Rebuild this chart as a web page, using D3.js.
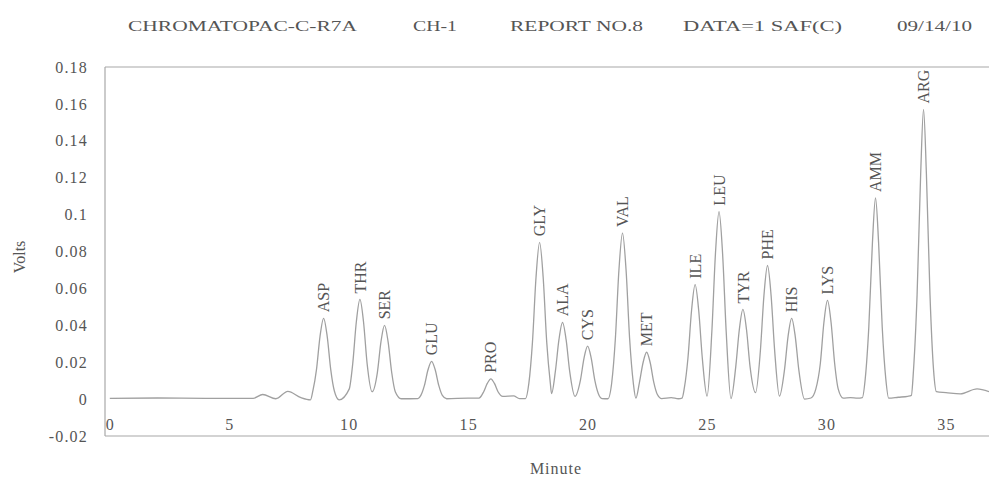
<!DOCTYPE html>
<html>
<head>
<meta charset="utf-8">
<script src="https://cdn.jsdelivr.net/npm/d3@7"></script>
<style>
    body { margin: 0; background: #fff; }
    svg { display: block; }
    text { font-family: "Liberation Serif", "DejaVu Serif", serif; fill: #555; }
</style>
</head>
<body>
<svg id="chart" width="989" height="480"></svg>
<script>
// header line of the report
var headerTexts = ["CHROMATOPAC-C-R7A", "CH-1", "REPORT NO.8", "DATA=1 SAF(C)", "09/14/10"];

// axis ticks
var xTicks = [0, 5, 10, 15, 20, 25, 30, 35];
var yTicks = [0.18, 0.16, 0.14, 0.12, 0.1, 0.08, 0.06, 0.04, 0.02, 0, -0.02];
var yTickLabels = ["0.18", "0.16", "0.14", "0.12", "0.1", "0.08", "0.06", "0.04", "0.02", "0", "-0.02"];

// labelled peaks (retention time in minutes, apex height in volts)
var peakNames = ["ASP", "THR", "SER", "GLU", "PRO", "GLY", "ALA", "CYS", "VAL", "MET",
    "ILE", "LEU", "TYR", "PHE", "HIS", "LYS", "AMM", "ARG"];
var peakTimes = [8.95, 10.47, 11.5, 13.47, 15.95, 17.99, 18.95, 20.0, 21.46, 22.47,
    24.5, 25.5, 26.5, 27.53, 28.54, 30.04, 32.05, 34.06];
var peakHeights = [0.0438, 0.054, 0.040, 0.0205, 0.011, 0.085, 0.0416, 0.0287, 0.090, 0.0254,
    0.062, 0.1016, 0.0486, 0.0724, 0.0438, 0.0535, 0.109, 0.157];

var traceTime = [
    0, 2, 4, 6.0, 6.4, 6.95, 7.45, 8.0, 8.4,
    8.5, 8.65, 8.8, 8.95, 9.1, 9.25, 9.4, 9.6,
    10.02, 10.17, 10.32, 10.47, 10.62, 10.77, 10.98,
    11.2, 11.35, 11.5, 11.65, 11.8, 11.95, 12.2,
    12.9, 13.02, 13.17, 13.32, 13.47, 13.62, 13.77, 13.92, 14.1, 15.0,
    15.45, 15.65, 15.8, 15.95, 16.1, 16.25, 16.45, 16.9, 17.15,
    17.4, 17.54, 17.69, 17.84, 17.99, 18.14, 18.29, 18.44, 18.49,
    18.65, 18.8, 18.95, 19.1, 19.25, 19.47,
    19.7, 19.85, 20.0, 20.15, 20.3, 20.45, 20.6, 20.85,
    21.01, 21.16, 21.31, 21.46, 21.61, 21.76, 21.91, 22.02,
    22.17, 22.32, 22.47, 22.62, 22.77, 22.92, 23.1, 23.5, 23.8,
    23.95, 24.05, 24.2, 24.35, 24.5, 24.65, 24.8, 25.0,
    25.2, 25.35, 25.5, 25.65, 25.8, 26.0,
    26.2, 26.35, 26.5, 26.65, 26.8, 27.03,
    27.23, 27.38, 27.53, 27.68, 27.83, 28.03,
    28.24, 28.39, 28.54, 28.69, 28.84, 29.08,
    29.35, 29.55, 29.74, 29.89, 30.04, 30.19, 30.34, 30.49, 30.7, 31.0, 31.3,
    31.5, 31.62, 31.77, 31.92, 32.05, 32.18, 32.33, 32.48, 32.6, 33.0, 33.4,
    33.55, 33.64, 33.79, 33.94, 34.06, 34.18, 34.33, 34.48, 34.6,
    35.0, 35.6, 36.3, 36.8
];
var traceVolts = [
    0.0004, 0.0006, 0.0004, 0.0004, 0.0025, 0.0002, 0.0042, 0.0008, -0.0004,
    0.0044, 0.0158, 0.034, 0.0438, 0.034, 0.0158, 0.0044, -0.0004,
    0.0054, 0.0194, 0.0419, 0.054, 0.0419, 0.0194, 0.004,
    0.0144, 0.031, 0.040, 0.031, 0.0144, 0.004, 0.0002,
    0.0003, 0.002, 0.0074, 0.0159, 0.0205, 0.0159, 0.0074, 0.002, 0.0002, 0.0005,
    0.0005, 0.004, 0.0085, 0.011, 0.0085, 0.004, 0.0015, 0.0017, 0.0003,
    0.0003, 0.0085, 0.0306, 0.0659, 0.085, 0.0659, 0.0306, 0.0085, 0.003,
    0.015, 0.0322, 0.0416, 0.0322, 0.015, 0.0015,
    0.0103, 0.0222, 0.0287, 0.0222, 0.0103, 0.0029, 0.0003, 0.0002,
    0.009, 0.0324, 0.0698, 0.090, 0.0698, 0.0324, 0.009, 0.0005,
    0.0091, 0.0197, 0.0254, 0.0197, 0.0091, 0.0025, 0.0003, 0.0008, 0.0002,
    0.0005, 0.0062, 0.0223, 0.048, 0.062, 0.048, 0.0223, 0.0016,
    0.0366, 0.0787, 0.1016, 0.0787, 0.0366, 0.0003,
    0.0175, 0.0377, 0.0486, 0.0377, 0.0175, 0.0035,
    0.026, 0.0561, 0.0724, 0.0561, 0.026, 0.0016,
    0.0158, 0.034, 0.0438, 0.034, 0.0158, 0.0,
    0.0006, 0.0054, 0.0193, 0.0415, 0.0535, 0.0415, 0.0193, 0.0054, 0.0005, 0.0008, 0.0005,
    0.0008, 0.011, 0.0392, 0.0845, 0.109, 0.0845, 0.0392, 0.011, 0.0005, 0.001, 0.0015,
    0.002, 0.0157, 0.0565, 0.122, 0.157, 0.122, 0.0565, 0.0157, 0.004,
    0.0035, 0.0028, 0.0055, 0.004
];

var svg = d3.select("#chart");
var width = +svg.attr("width"),
    height = +svg.attr("height");

var plot = { left: 105, right: 989, top: 67, bottom: 436 };

var x = d3.scaleLinear().domain([-0.2, 36.8]).range([plot.left, plot.right]);
var y = d3.scaleLinear().domain([-0.02, 0.18]).range([plot.bottom, plot.top]);

// header (spans)
var headerSpans = [[128, 229], [413, 44], [510, 133], [683, 159], [897, 75]];
svg.append("g")
    .attr("id", "header")
    .selectAll("text")
    .data(headerTexts)
    .enter()
    .append("text")
    .attr("x", function (d, i) { return headerSpans[i][0]; })
    .attr("y", 31)
    .attr("textLength", function (d, i) { return headerSpans[i][1]; })
    .attr("lengthAdjust", "spacingAndGlyphs")
    .style("font-size", "15px")
    .text(function (d) { return d; });

// frame
var frame = svg.append("g").attr("id", "frame")
    .attr("stroke", "#a8a8a8")
    .attr("stroke-width", 1.2)
    .attr("fill", "none");
frame.append("line").attr("x1", plot.left).attr("x2", width).attr("y1", plot.top).attr("y2", plot.top);
frame.append("line").attr("x1", plot.left).attr("x2", width).attr("y1", plot.bottom).attr("y2", plot.bottom);
frame.append("line").attr("x1", plot.left).attr("x2", plot.left).attr("y1", plot.top).attr("y2", plot.bottom);

// y axis
var yAxis = d3.axisLeft(y)
    .tickValues(yTicks)
    .tickSize(0)
    .tickPadding(17)
    .tickFormat(function (d, i) { return yTickLabels[i]; });

svg.append("g")
    .attr("class", "y axis")
    .attr("transform", "translate(" + plot.left + ",0)")
    .call(yAxis)
    .call(function (g) { g.select(".domain").remove(); })
    .selectAll("text")
    .style("font-size", "16px")
    .style("letter-spacing", "1.2px")
    .style("font-family", "\"Liberation Serif\", serif")
    .attr("fill", function (d) { return d === 0.06 ? "#4d6b3f" : "#555"; });

// x axis, labels sit inside the frame just above the bottom line
var xAxis = d3.axisTop(x)
    .tickValues(xTicks)
    .tickSize(0)
    .tickPadding(6);

svg.append("g")
    .attr("class", "x axis")
    .attr("transform", "translate(0," + plot.bottom + ")")
    .call(xAxis)
    .call(function (g) { g.select(".domain").remove(); })
    .selectAll("text")
    .style("font-size", "16px")
    .style("letter-spacing", "1.2px")
    .style("font-family", "\"Liberation Serif\", serif")
    .attr("fill", "#555");

// axis titles
svg.append("text")
    .attr("transform", "translate(25,257) rotate(-90)")
    .attr("text-anchor", "middle")
    .style("font-size", "16px")
    .text("Volts");

svg.append("text")
    .attr("x", 556)
    .attr("y", 474)
    .attr("text-anchor", "middle")
    .style("font-size", "16px")
    .style("letter-spacing", "1px")
    .text("Minute");

// trace
var trace = traceTime.map(function (t, i) {
    return { t: t, v: traceVolts[i] };
});

var line = d3.line()
    .x(function (d) { return x(d.t); })
    .y(function (d) { return y(d.v); })
    .curve(d3.curveMonotoneX);

svg.append("defs").append("clipPath")
    .attr("id", "clip")
    .append("rect")
    .attr("x", plot.left)
    .attr("y", plot.top)
    .attr("width", plot.right - plot.left)
    .attr("height", plot.bottom - plot.top);

svg.append("path")
    .attr("id", "trace")
    .datum(trace)
    .attr("clip-path", "url(#clip)")
    .attr("d", line)
    .attr("fill", "none")
    .attr("stroke", "#a0a0a0")
    .attr("stroke-width", 1.3)
    .attr("stroke-linejoin", "round");

// peak labels, rotated, reading upward from just above the apex
svg.append("g")
    .attr("id", "peaks")
    .selectAll("text")
    .data(peakNames)
    .enter()
    .append("text")
    .attr("transform", function (d, i) {
        return "translate(" + x(peakTimes[i]) + "," + (y(peakHeights[i]) - 6) + ") rotate(-90)";
    })
    .attr("dy", "0.35em")
    .style("font-size", "16px")
    .attr("fill", function (d) { return d === "TYR" ? "#4f6b45" : "#555"; })
    .text(function (d) { return d; });
</script>
</body>
</html>
